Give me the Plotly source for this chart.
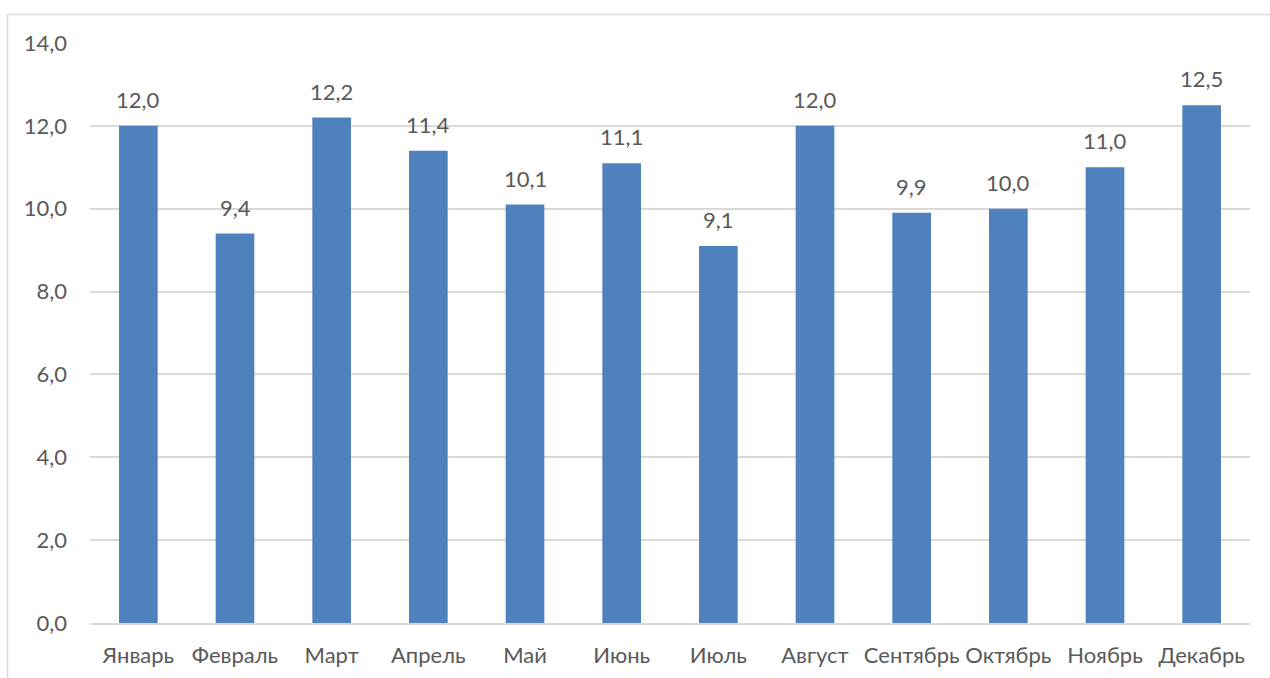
import plotly.graph_objects as go

months = ["Январь", "Февраль", "Март", "Апрель", "Май", "Июнь",
          "Июль", "Август", "Сентябрь", "Октябрь", "Ноябрь", "Декабрь"]
values = [12.0, 9.4, 12.2, 11.4, 10.1, 11.1, 9.1, 12.0, 9.9, 10.0, 11.0, 12.5]
y_ticks = [0, 2, 4, 6, 8, 10, 12, 14]

TEXT = "#595959"
GRID = "#D9D9D9"
BAR = "#4F81BD"
FONT = "Lato, 'Liberation Sans', sans-serif"
FS = 22

fig = go.Figure(go.Bar(
    x=months, y=values, marker_color=BAR, marker_line_width=0, width=0.4,
    hoverinfo="skip",
))

# value labels above the bars
for m, v in zip(months, values):
    fig.add_annotation(
        x=m, y=v, text=f"{v:.1f}".replace(".", ","), showarrow=False,
        yanchor="bottom", yshift=11, font=dict(family=FONT, size=FS, color=TEXT),
    )

# chart frame (top and left edges)
W, H = 1270, 678
L, R, T, B = 90, 20, 42.5, 54.5
pw, ph = W - L - R, H - T - B
fx = lambda px: (px - L) / pw
fy = lambda py: (H - B - py) / ph
frame = dict(type="line", xref="paper", yref="paper",
             line=dict(color=GRID, width=1.5))
fig.add_shape(**frame, x0=fx(7.5), x1=fx(W + 5), y0=fy(14), y1=fy(14))
fig.add_shape(**frame, x0=fx(7.5), x1=fx(7.5), y0=fy(14), y1=fy(H + 5))

fig.update_layout(
    width=W, height=H, margin=dict(l=L, r=R, t=T, b=B, autoexpand=False),
    paper_bgcolor="white", plot_bgcolor="white", showlegend=False,
    separators=", ", bargap=0.6,
    font=dict(family=FONT, size=FS, color=TEXT),
)
fig.update_xaxes(
    showgrid=False, showline=True, linecolor=GRID, linewidth=1.5,
    ticks="", ticklabelstandoff=12, tickfont=dict(size=FS, color=TEXT),
)
fig.update_yaxes(
    range=[0, 14], tickvals=y_ticks, tickformat=".1f",
    showgrid=True, gridcolor=GRID, gridwidth=1.5, zeroline=False,
    showline=False, ticks="", ticklabelstandoff=22,
    tickfont=dict(size=FS, color=TEXT),
)

fig.write_html("out.html")
